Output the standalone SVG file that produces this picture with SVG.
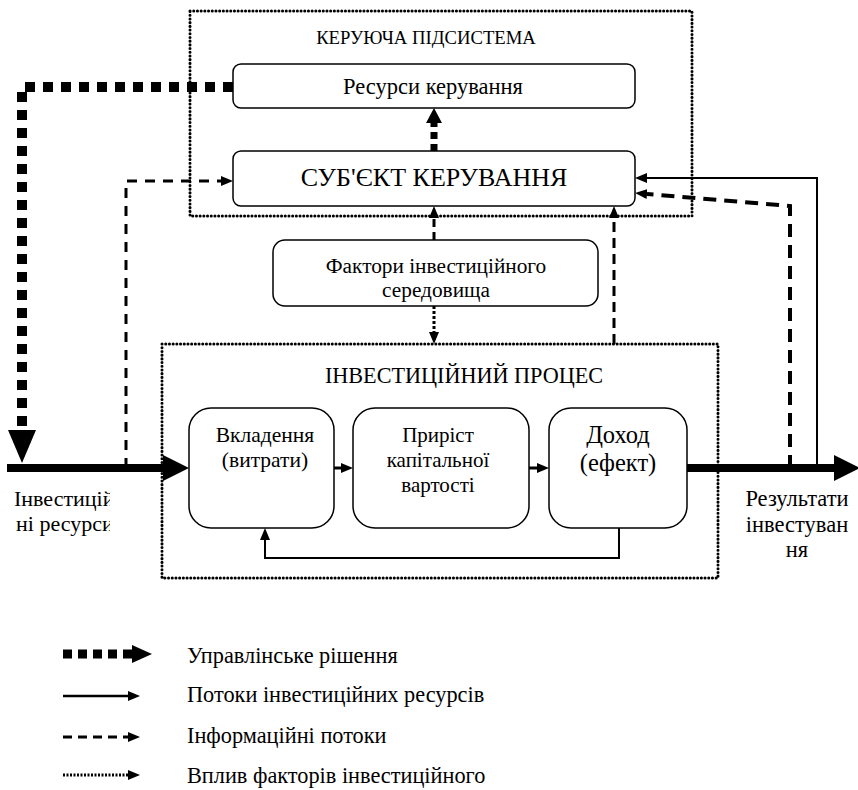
<svg xmlns="http://www.w3.org/2000/svg" width="858" height="790" viewBox="0 0 858 790">
<style>
.t{font-family:'Liberation Serif','DejaVu Serif',serif;fill:#000}
.box{fill:#fff;stroke:#000;stroke-width:1.5}
.frame{fill:none;stroke:#000;stroke-width:3;stroke-dasharray:0.1 3.6;stroke-linecap:round}
.c{fill:none;stroke:#000}
.mid{text-anchor:middle}
</style>
<defs>
<marker id="sm" markerUnits="userSpaceOnUse" markerWidth="12" markerHeight="10" refX="0" refY="5" orient="auto"><path d="M0,0 L12,5 L0,10 z"/></marker>
<marker id="md" markerUnits="userSpaceOnUse" markerWidth="15" markerHeight="16" refX="0" refY="8" orient="auto"><path d="M0,0 L15,8 L0,16 z"/></marker>
<marker id="bg" markerUnits="userSpaceOnUse" markerWidth="26" markerHeight="26" refX="0" refY="13" orient="auto"><path d="M0,0 L26,13 L0,26 z"/></marker>
<marker id="dn" markerUnits="userSpaceOnUse" markerWidth="33" markerHeight="28" refX="0" refY="14" orient="auto"><path d="M0,0 L33,14 L0,28 z"/></marker>
<clipPath id="clipL"><rect x="0" y="480" width="110" height="60"/></clipPath>
</defs>

<g id="control-subsystem">
<rect class="frame" x="190" y="11" width="502" height="205"/>
<text class="t mid" x="426" y="44" font-size="18.7" font-family="Liberation Serif, serif">КЕРУЮЧА ПІДСИСТЕМА</text>
</g>

<g id="resources">
<rect class="box" x="233" y="64" width="402" height="44" rx="8"/>
<text class="t mid" x="433" y="94" font-size="22.5" font-family="Liberation Serif, serif">Ресурси керування</text>
</g>

<g id="subject">
<rect class="box" x="233" y="151" width="402" height="55" rx="8"/>
<text class="t mid" x="434" y="186" font-size="26" font-family="Liberation Serif, serif">СУБ'ЄКТ КЕРУВАННЯ</text>
</g>

<g id="factors">
<rect class="box" x="273" y="240" width="325" height="66" rx="12"/>
<text class="t mid" x="436" y="273" font-size="21.3" font-family="Liberation Serif, serif">Фактори інвестиційного</text>
<text class="t mid" x="436" y="297" font-size="21.3" font-family="Liberation Serif, serif">середовища</text>
</g>

<g id="process">
<rect class="frame" x="162" y="344" width="556" height="234"/>
<text class="t mid" x="464" y="383" font-size="22.2" font-family="Liberation Serif, serif">ІНВЕСТИЦІЙНИЙ ПРОЦЕС</text>
</g>

<g id="investment">
<rect class="box" x="189" y="408" width="145" height="120" rx="22"/>
<text class="t mid" x="265" y="442" font-size="21.5" font-family="Liberation Serif, serif">Вкладення</text>
<text class="t mid" x="265" y="467" font-size="21.5" font-family="Liberation Serif, serif">(витрати)</text>
</g>

<g id="growth">
<rect class="box" x="353" y="408" width="176" height="120" rx="22"/>
<text class="t mid" x="438" y="442" font-size="21" font-family="Liberation Serif, serif">Приріст</text>
<text class="t mid" x="438" y="467" font-size="21" font-family="Liberation Serif, serif">капітальної</text>
<text class="t mid" x="438" y="492" font-size="21" font-family="Liberation Serif, serif">вартості</text>
</g>

<g id="income">
<rect class="box" x="549" y="408" width="138" height="120" rx="22"/>
<text class="t mid" x="618" y="443" font-size="24.5" font-family="Liberation Serif, serif">Доход</text>
<text class="t mid" x="618" y="471" font-size="24.5" font-family="Liberation Serif, serif">(ефект)</text>
</g>

<g id="input-label">
<g clip-path="url(#clipL)">
<text class="t" x="14" y="506" font-size="22" font-family="Liberation Serif, serif">Інвестицій</text>
<text class="t" x="16" y="531" font-size="22" font-family="Liberation Serif, serif">ні ресурси</text>
</g>
</g>

<g id="output-label">
<text class="t mid" x="797" y="506" font-size="22.5" font-family="Liberation Serif, serif">Результати</text>
<text class="t mid" x="797" y="532" font-size="22.5" font-family="Liberation Serif, serif">інвестуван</text>
<text class="t mid" x="797" y="557" font-size="22.5" font-family="Liberation Serif, serif">ня</text>
</g>

<g id="connectors">
<path class="c" d="M7,468 H163" stroke-width="8" marker-end="url(#bg)"/>
<path class="c" d="M687,468 H834" stroke-width="8" marker-end="url(#bg)"/>
<path class="c" d="M233,87 H22 V430" stroke-width="10" stroke-dasharray="10 8" marker-end="url(#dn)"/>
<path class="c" d="M126,468 V181 H221" stroke-width="3" stroke-dasharray="10 8" marker-end="url(#sm)"/>
<path class="c" d="M434,151 V123" stroke-width="7" stroke-dasharray="7 5" marker-end="url(#md)"/>
<path class="c" d="M434,240 V218" stroke-width="3" stroke-dasharray="8 5" marker-end="url(#sm)"/>
<path class="c" d="M434,306 V332" stroke-width="3" stroke-dasharray="3 2" marker-end="url(#sm)"/>
<path class="c" d="M614,344 V218" stroke-width="3" stroke-dasharray="10 6" marker-end="url(#sm)"/>
<path class="c" d="M817,468 V178 H647" stroke-width="2" marker-end="url(#sm)"/>
<path class="c" d="M790,468 V206 L647,194" stroke-width="4" stroke-dasharray="13 8" marker-end="url(#sm)"/>
<path class="c" d="M619,528 V558 H265 V540" stroke-width="2" marker-end="url(#sm)"/>
<path class="c" d="M334,468 H341" stroke-width="3" marker-end="url(#sm)"/>
<path class="c" d="M529,468 H537" stroke-width="3" marker-end="url(#sm)"/>
</g>

<g id="legend">
<path class="c" d="M63,654 H132" stroke-width="9" stroke-dasharray="9 6"/>
<path d="M132,645 L152,654 L132,663 z"/>
<path class="c" d="M63,696 H128" stroke-width="2.5" marker-end="url(#sm)"/>
<path class="c" d="M63,737 H128" stroke-width="3" stroke-dasharray="9 6" marker-end="url(#sm)"/>
<path class="c" d="M63,775 H128" stroke-width="3" stroke-dasharray="2 1.5" marker-end="url(#sm)"/>
<text class="t" x="187" y="663" font-size="22.3" font-family="Liberation Serif, serif">Управлінське рішення</text>
<text class="t" x="187" y="702" font-size="22.3" font-family="Liberation Serif, serif">Потоки інвестиційних ресурсів</text>
<text class="t" x="187" y="743" font-size="22.3" font-family="Liberation Serif, serif">Інформаційні потоки</text>
<text class="t" x="187" y="783" font-size="22.3" font-family="Liberation Serif, serif">Вплив факторів інвестиційного</text>
</g>
</svg>
